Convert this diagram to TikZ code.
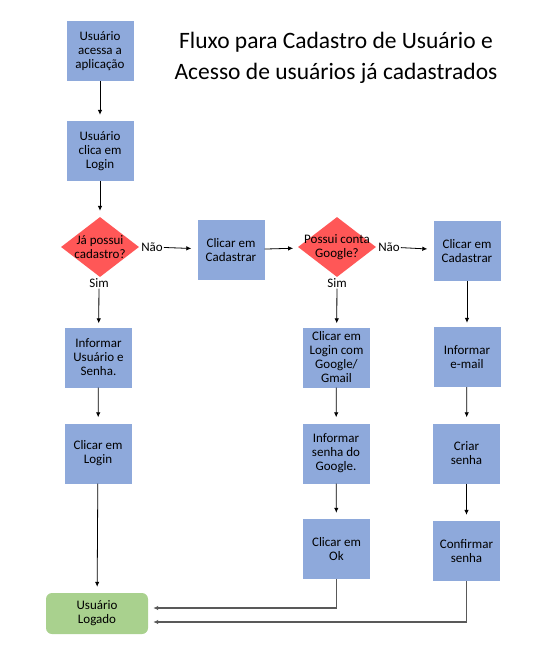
\documentclass[tikz,border=0pt]{standalone}
\usepackage{fontspec}
\setmainfont{Carlito}
\usetikzlibrary{shapes.geometric,arrows.meta,calc}
\definecolor{boxblue}{HTML}{8EA9DB}
\definecolor{decred}{HTML}{FF5757}
\definecolor{endgreen}{HTML}{A9D18E}
\definecolor{linkgray}{HTML}{595959}
\newcommand{\boxfont}{\fontsize{13}{14}\selectfont}
\tikzset{
  stepbox/.style={rectangle,fill=boxblue,draw=none,minimum width=67pt,minimum height=60pt,inner sep=1pt,align=center,font=\boxfont},
  decision/.style={diamond,fill=decred,draw=none,minimum width=78pt,minimum height=60pt,inner sep=0pt,
    label={[align=center,font=\boxfont,inner sep=0pt]center:#1}},
  finalbox/.style={rectangle,rounded corners=6pt,fill=endgreen,draw=none,minimum width=102pt,minimum height=41pt,align=center,font=\boxfont},
  lbl/.style={inner sep=1pt,font=\boxfont},
  flow/.style={draw=black,line width=0.8pt,-{Latex[length=5pt,width=4.5pt]},shorten >=6pt},
  back/.style={draw=linkgray,line width=1.3pt,-{Latex[length=5pt,width=4.5pt]},shorten >=5pt},
}
\begin{document}
\begin{tikzpicture}[x=1pt,y=-1pt]
\useasboundingbox (0,0) rectangle (543,657);
% title
\node[align=center,font=\fontsize{23.5}{31}\selectfont] (title) at (336,58) {Fluxo para Cadastro de Usuário e\\Acesso de usuários já cadastrados};
% left column
\node[stepbox] (b1) at (100,51) {Usuário\\acessa a\\aplicação};
\node[stepbox] (b2) at (100,151) {Usuário\\clica em\\Login};
\node[decision={Já possui\\cadastro?}] (d1) at (100,247) {};
\node[lbl] (s1) at (99,283) {Sim};
\node[lbl] (n1) at (152,247) {Não};
\node[stepbox] (b5) at (98.5,357.5) {Informar\\Usuário e\\Senha.};
\node[stepbox] (b6) at (98,453.5) {Clicar em\\Login};
\node[finalbox] (fim) at (97,613.5) {Usuário\\Logado};
% middle
\node[stepbox] (b3) at (231,250) {Clicar em\\Cadastrar};
\node[decision={Possui conta\\Google?}] (d2) at (337,247) {};
\node[lbl] (s2) at (337,283) {Sim};
\node[lbl] (n2) at (389,247) {Não};
\node[stepbox] (g1) at (336.5,357.5) {Clicar em\\Login com\\Google/\\Gmail};
\node[stepbox] (g2) at (336,453.5) {Informar\\senha do\\Google.};
\node[stepbox] (g3) at (336.5,549) {Clicar em\\Ok};
% right
\node[stepbox] (b4) at (467,251) {Clicar em\\Cadastrar};
\node[stepbox] (r1) at (467,357) {Informar\\e-mail};
\node[stepbox] (r2) at (466.5,453.5) {Criar\\senha};
\node[stepbox] (r3) at (466.5,551) {Confirmar\\senha};
% connectors
\draw[flow] (b1) -- (b2);
\draw[flow] (b2) -- (d1);
\draw[flow,shorten >=4pt] (s1) -- (b5);
\draw[flow] (b5) -- (b6);
\draw[flow] (b6) -- (fim);
\draw[flow] (n1) -- (b3);
\draw[flow] (b3) -- (d2);
\draw[flow] (n2) -- (b4);
\draw[flow,shorten >=4pt] (s2) -- (g1);
\draw[flow] (g1) -- (g2);
\draw[flow] (g2) -- (g3);
\draw[flow,shorten >=4pt] (b4) -- (r1);
\draw[flow] (r1) -- (r2);
\draw[flow] (r2) -- (r3);
\draw[back] (g3.south) |- ([yshift=5.5pt]fim.east);
\draw[back] (r3.south) |- ([yshift=-8.5pt]fim.east);
\end{tikzpicture}
\end{document}
